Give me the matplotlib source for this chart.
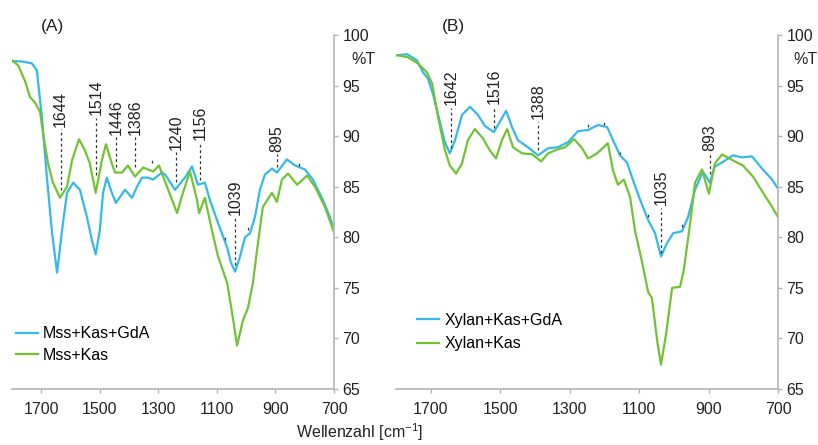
import matplotlib
matplotlib.use("Agg")
import matplotlib.pyplot as plt

plt.rcParams['font.family'] = ['Liberation Sans', 'DejaVu Sans']
plt.rcParams['mathtext.fontset'] = 'custom'
plt.rcParams['mathtext.rm'] = 'Liberation Sans'
plt.rcParams['mathtext.it'] = 'Liberation Sans'

# ---- data (A) ----
a_blue_wn = [1800, 1770, 1732, 1715, 1698, 1681, 1663, 1646, 1626, 1612, 1591, 1568, 1544, 1527,
             1514, 1500, 1489, 1476, 1459, 1445, 1414, 1390, 1373, 1356, 1335, 1318, 1288, 1277,
             1243, 1209, 1185, 1165, 1141, 1124, 1096, 1065, 1052, 1038, 1021, 1004, 987, 970,
             953, 936, 912, 895, 861, 833, 799, 772, 738, 714, 700]
a_blue_t = [97.4, 97.4, 97.2, 96.5, 91.9, 86.0, 80.4, 76.5, 81.4, 84.4, 85.4, 84.7, 82.0, 79.7,
            78.3, 80.7, 84.4, 85.9, 84.4, 83.4, 84.7, 83.9, 85.0, 85.9, 85.9, 85.7, 86.4, 86.2,
            84.7, 85.9, 87.0, 85.2, 85.4, 83.7, 81.4, 79.0, 77.5, 76.6, 78.1, 80.0, 80.4, 82.0,
            84.7, 86.2, 86.8, 86.4, 87.7, 87.1, 86.7, 85.7, 83.7, 82.0, 80.8]

a_green_wn = [1800, 1779, 1756, 1739, 1721, 1704, 1694, 1677, 1660, 1636, 1612, 1595, 1571, 1551,
              1534, 1514, 1493, 1479, 1459, 1448, 1424, 1404, 1380, 1352, 1318, 1298, 1277, 1236,
              1216, 1192, 1168, 1161, 1141, 1117, 1096, 1065, 1048, 1031, 1011, 994, 977, 960,
              943, 912, 895, 878, 857, 826, 792, 765, 731, 700]
a_green_t = [97.5, 97.0, 95.5, 93.9, 93.3, 92.4, 90.3, 87.3, 85.4, 83.9, 85.0, 87.6, 89.7, 88.6,
             87.3, 84.4, 87.6, 89.2, 87.3, 86.4, 86.4, 87.1, 86.0, 86.9, 86.5, 87.1, 85.5, 82.4,
             84.4, 86.5, 83.7, 82.4, 83.9, 80.7, 78.1, 75.5, 72.5, 69.3, 71.8, 73.0, 75.5, 79.4,
             83.0, 84.4, 83.5, 85.7, 86.3, 85.2, 86.1, 85.0, 83.0, 80.5]

# peak marks (A): wavenumber, line top, line bottom, label
a_marks_wn = [1634, 1513, 1445, 1380, 1322, 1240, 1158, 1038, 1072, 994, 895, 820]
a_marks_top = [90.7, 91.8, 89.9, 89.9, 87.8, 88.4, 89.4, 82.0, 80.2, 81.2, 88.2, 87.5]
a_marks_bot = [84.7, 86.2, 86.9, 86.9, 87.3, 85.5, 85.7, 77.3, 79.7, 80.7, 86.9, 87.0]
a_marks_lbl = ["1644", "1514", "1446", "1386", "", "1240", "1156", "1039", "", "", "895", ""]

# ---- data (B) ----
b_blue_wn = [1797, 1768, 1740, 1722, 1708, 1693, 1673, 1659, 1645, 1630, 1610, 1587, 1564, 1544,
             1518, 1483, 1466, 1449, 1420, 1391, 1362, 1334, 1305, 1276, 1247, 1236, 1218, 1192,
             1175, 1155, 1135, 1118, 1097, 1074, 1054, 1037, 1020, 1002, 976, 959, 939, 916, 896,
             882, 861, 830, 804, 775, 746, 717, 700]
b_blue_t = [98.0, 98.1, 97.5, 96.3, 95.7, 94.1, 91.3, 89.4, 88.3, 89.6, 92.1, 92.9, 92.1, 91.0,
            90.4, 92.5, 90.9, 89.6, 88.9, 88.1, 88.8, 88.9, 89.4, 90.5, 90.6, 90.8, 91.1, 90.9,
            89.6, 88.1, 87.4, 85.7, 83.7, 81.7, 80.4, 78.1, 79.4, 80.4, 80.6, 82.0, 84.7, 86.5, 85.4,
            87.0, 87.4, 88.1, 87.9, 88.0, 86.8, 85.7, 84.8]

b_green_wn = [1797, 1766, 1737, 1711, 1696, 1679, 1659, 1645, 1627, 1610, 1593, 1573, 1550, 1530,
              1512, 1495, 1480, 1463, 1437, 1408, 1382, 1362, 1334, 1313, 1287, 1264, 1247, 1241,
              1221, 1190, 1175, 1161, 1144, 1126, 1112, 1093, 1074, 1063, 1048, 1037, 1022, 1005,
              982, 971, 953, 939, 919, 899, 882, 861, 830, 801, 772, 743, 717, 700]
b_green_t = [98.0, 97.8, 97.2, 96.3, 95.2, 91.9, 88.6, 87.1, 86.3, 87.3, 89.6, 90.7, 89.8, 88.6,
             87.8, 89.6, 90.7, 88.9, 88.3, 88.2, 87.5, 88.3, 88.7, 88.9, 89.7, 88.8, 87.8, 87.9,
             88.3, 89.3, 86.6, 85.2, 85.7, 84.0, 80.7, 77.8, 74.6, 74.0, 69.8, 67.4, 70.5, 75.0,
             75.1, 76.8, 81.4, 85.4, 86.7, 84.3, 87.3, 88.2, 87.6, 87.1, 86.0, 84.4, 83.0, 82.0]

b_marks_wn = [1642, 1518, 1391, 1247, 1201, 1155, 1037, 1074, 976, 896]
b_marks_top = [92.8, 92.9, 91.4, 91.2, 91.4, 88.4, 82.9, 82.5, 81.5, 88.3]
b_marks_bot = [88.8, 90.8, 88.6, 90.9, 91.1, 88.2, 78.4, 82.0, 81.0, 86.3]
b_marks_lbl = ["1642", "1516", "1388", "", "", "", "1035", "", "", "893"]

blue = '#35b8ea'
green = '#72c334'
gray = '#b4b4b4'
txt = '#222222'
fs = 11.5

fig = plt.figure(figsize=(8.18, 4.45), dpi=100)
ax1 = fig.add_axes([12 / 818, 1 - 389 / 445, 322 / 818, 354 / 445])
ax2 = fig.add_axes([396 / 818, 1 - 389 / 445, 382 / 818, 354 / 445])


def style(ax):
    ax.set_xlim(1800, 700)
    ax.set_ylim(65, 100)
    ax.set_xticks([1700, 1500, 1300, 1100, 900, 700])
    ax.set_yticks([65, 70, 75, 80, 85, 90, 95, 100])
    ax.yaxis.tick_right()
    for s in ['top', 'left']:
        ax.spines[s].set_visible(False)
    for s in ['right', 'bottom']:
        ax.spines[s].set_color(gray)
        ax.spines[s].set_linewidth(1.2)
    ax.tick_params(axis='both', colors=gray, labelcolor=txt, labelsize=fs, length=3, width=1)
    ax.tick_params(axis='x', pad=6)
    ax.tick_params(axis='y', pad=3)
    ax.patch.set_alpha(0)


def marks(ax, wn, top, bot, lbl):
    for w, t, b, l in zip(wn, top, bot, lbl):
        ax.plot([w, w], [b, t], color='#333333', lw=0.9, ls=(0, (2.2, 2.2)))
        if l:
            ax.text(w, t + 0.25, l, rotation=90, ha='center', va='bottom', fontsize=fs, color=txt)


style(ax1)
ax1.plot(a_blue_wn, a_blue_t, color=blue, lw=1.6, label='Mss+Kas+GdA')
ax1.plot(a_green_wn, a_green_t, color=green, lw=1.6, label='Mss+Kas')
marks(ax1, a_marks_wn, a_marks_top, a_marks_bot, a_marks_lbl)
ax1.legend(loc='center left', bbox_to_anchor=(0.012, 0.126), frameon=False, fontsize=fs,
           handlelength=1.4, handletextpad=0.3, labelspacing=0.4, borderaxespad=0, borderpad=0)

style(ax2)
ax2.plot(b_blue_wn, b_blue_t, color=blue, lw=1.6, label='Xylan+Kas+GdA')
ax2.plot(b_green_wn, b_green_t, color=green, lw=1.6, label='Xylan+Kas')
marks(ax2, b_marks_wn, b_marks_top, b_marks_bot, b_marks_lbl)
ax2.legend(loc='center left', bbox_to_anchor=(0.055, 0.161), frameon=False, fontsize=fs,
           handlelength=1.4, handletextpad=0.3, labelspacing=0.55, borderaxespad=0, borderpad=0)

fig.text(363 / 818, 1 - 59 / 445, '%T', ha='center', va='center', fontsize=fs, color=txt)
fig.text(805 / 818, 1 - 59 / 445, '%T', ha='center', va='center', fontsize=fs, color=txt)
fig.text(52 / 818, 1 - 26 / 445, '(A)', ha='center', va='center', fontsize=12.5, color=txt)
fig.text(453 / 818, 1 - 26 / 445, '(B)', ha='center', va='center', fontsize=12.5, color=txt)
fig.text(360 / 818, 1 - 432 / 445, 'Wellenzahl [cm$^{-1}$]', ha='center', va='center',
         fontsize=fs, color=txt)

fig.savefig('out.png', dpi=100)
